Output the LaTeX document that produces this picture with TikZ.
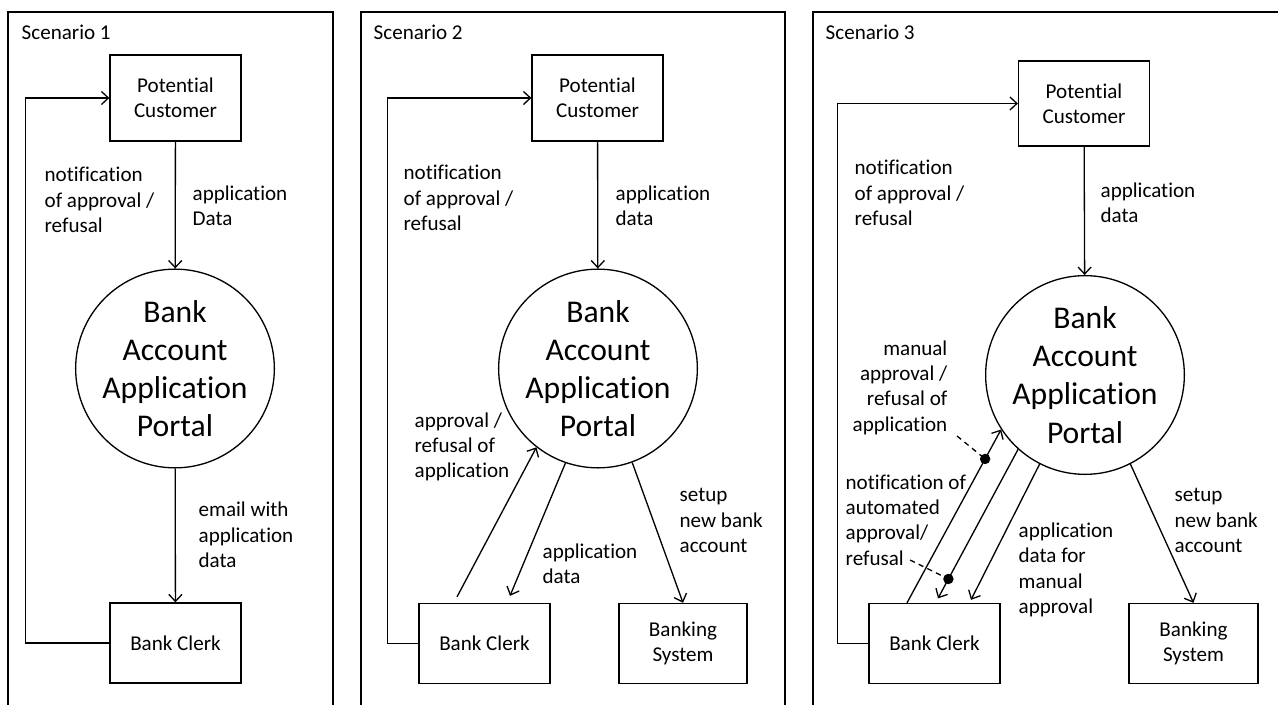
\documentclass[tikz,border=0pt]{standalone}
\usepackage{fontspec}
\setmainfont{Carlito}[Ligatures=NoCommon]
\usepackage{tikz}
\usetikzlibrary{arrows.meta}
\tikzset{
Fleche/.style={
 draw=black,
 -{Straight Barb[length=4pt,width=7.5pt]}
 },
Boite/.style={
 draw=black,
 rectangle,
 minimum width=2.62cm,
 minimum height=1.6cm,
 align=center,
 font=\fontsize{12}{14.4}\selectfont
 },
Bulle/.style={
 draw=black,
 circle,
 minimum size=3.88cm,
 inner sep=0pt,
 align=center,
 font=\fontsize{18}{21.7}\selectfont
 },
Texte/.style={
 inner sep=0pt,
 anchor=west,
 align=left,
 font=\fontsize{12}{14.4}\selectfont
 },
Renvoi/.style={
 draw=black,
 dash pattern=on 3pt off 2.5pt
 },
Cadre/.style={
 draw=black
 }
}

\begin{document}
\begin{tikzpicture}[x=0.02cm,y=-0.02cm,line width=0.75pt]
\useasboundingbox (0,0) rectangle (1278,705);
\draw[Cadre] (8,705) -- (8,12) -- (333,12) -- (333,705);
\draw[Cadre] (361,705) -- (361,12) -- (785,12) -- (785,705);
\draw[Cadre] (813,705) -- (813,12) -- (1278,12);

\node[Texte] (scen1) at (21,32) {Scenario 1};
\node[Boite,minimum height=1.72cm] (pc1) at (175.5,98) {Potential\\Customer};
\node[Bulle] (portal1) at (175,368.5) {Bank\\Account\\Application\\Portal};
\node[Boite] (bc1) at (175.5,643) {Bank Clerk};
\node[Texte] (data1) at (192,206) {application\\Data};
\node[Texte] (notif1) at (44,200) {notification\\of approval /\\refusal};
\node[Texte] (email1) at (198,535) {email with\\application\\data};
\draw[Fleche] (pc1) -- (portal1);
\draw[Fleche] (portal1) -- (bc1);
\draw[Fleche] (bc1.west) -- ++(-84,0) |- (pc1.west);

\node[Texte] (scen2) at (373,32) {Scenario 2};
\node[Boite,minimum height=1.72cm] (pc2) at (597.5,98) {Potential\\Customer};
\node[Bulle] (portal2) at (598,368.5) {Bank\\Account\\Application\\Portal};
\node[Boite] (bc2) at (484.5,643.5) {Bank Clerk};
\node[Boite,minimum width=2.56cm] (bs2) at (683,643.5) {Banking\\System};
\node[Texte] (data2) at (615,206) {application\\data};
\node[Texte] (notif2) at (403,198) {notification\\of approval /\\refusal};
\node[Texte] (appr2) at (414,447) {approval /\\refusal of\\application};
\node[Texte] (data2b) at (542,564) {application\\data};
\node[Texte] (setup2) at (679,520.5) {setup\\new bank\\account};
\draw[Fleche] (pc2) -- (portal2);
\draw[Fleche] ([xshift=-0.55cm,yshift=0.12cm]bc2.north) -- (portal2.232);
\draw[Fleche] (portal2.251) -- ([xshift=0.51cm,yshift=0.14cm]bc2.north);
\draw[Fleche] (portal2.290) -- (bs2.north);
\draw[Fleche] (bc2.west) -- ++(-31,0) |- (pc2.west);

\node[Texte] (scen3) at (825,32) {Scenario 3};
\node[Boite,minimum height=1.7cm] (pc3) at (1084,103.5) {Potential\\Customer};
\node[Bulle] (portal3) at (1085,375) {Bank\\Account\\Application\\Portal};
\node[Boite] (bc3) at (934.5,643.5) {Bank Clerk};
\node[Boite,minimum width=2.58cm] (bs3) at (1193.5,643.5) {Banking\\System};
\node[Texte] (data3) at (1100,202.5) {application\\data};
\node[Texte] (notif3) at (854,193) {notification\\of approval /\\refusal};
\node[Texte,anchor=east,align=right] (man3) at (948,387.5) {manual\\approval /\\refusal of\\application};
\node[Texte] (auto3) at (845,520) {notification of\\automated\\approval/\\refusal};
\node[Texte] (data3b) at (1018,570) {application\\data for\\manual\\approval};
\node[Texte] (setup3) at (1174,520.5) {setup\\new bank\\account};
\coordinate (manfin) at (957,436);
\coordinate (autofin) at (910,560);
\draw[Fleche] (pc3) -- (portal3);
\draw[Fleche] ([xshift=-0.55cm]bc3.north) -- coordinate[pos=0.83] (pointA) (portal3.213);
\draw[Fleche] (portal3.228) -- coordinate[pos=0.87] (pointB) ([xshift=0.07cm,yshift=0.09cm]bc3.north);
\draw[Fleche] (portal3.243) -- ([xshift=0.73cm,yshift=0.06cm]bc3.north);
\draw[Fleche] (portal3.297) -- (bs3.north);
\draw[Fleche] (bc3.west) -- ++(-31,0) |- (pc3.west);
\draw[Renvoi] (manfin) -- (pointA);
\draw[Renvoi] (autofin) -- (pointB);
\filldraw (pointA) circle (0.09cm);
\filldraw (pointB) circle (0.09cm);
\end{tikzpicture}
\end{document}
